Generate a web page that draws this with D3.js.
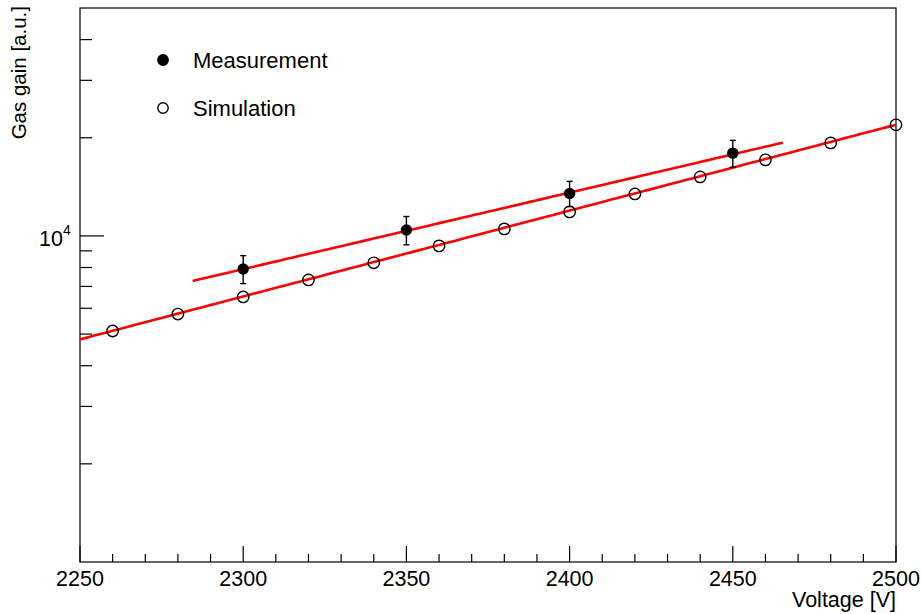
<!DOCTYPE html>
<html><head><meta charset="utf-8">
<script src="https://cdn.jsdelivr.net/npm/d3@7"></script>
<style>body{margin:0;background:#fff;} svg{display:block;font-family:"Liberation Sans",Arial,sans-serif;}</style>
</head><body><svg id="c" width="921" height="614"></svg>
<script>
// ---- data ----
const simVoltage = [2260,2280,2300,2320,2340,2360,2380,2400,2420,2440,2460,2480,2500];
const simGain    = [5110,5760,6500,7330,8270,9320,10510,11850,13450,15170,17110,19290,21910];
const measVoltage = [2300,2350,2400,2450];
const measGain    = [7920,10430,13500,17940];
const measErr     = [780,1040,1200,1700];
// exponential fits: gain = exp(p0 + p1*V)
const measFit = {p0:-3.451, p1:0.005403, from:2284.5, to:2465.3};
const simFit  = {p0:-5.162, p1:0.006063, from:2250, to:2500};
const xMajorTicks = [2250,2300,2350,2400,2450,2500];
const xMinorStep = 10;
const yMajorTicks = [10000];
const yMinorTicks = [2000,3000,4000,5000,6000,7000,8000,9000,20000,30000,40000];
const legendItems = [{label:"Measurement", filled:true},{label:"Simulation", filled:false}];

const svg = d3.select("#c");
const L=80, R=896, T=8, B=562;
const x = d3.scaleLinear().domain([2250,2500]).range([L,R]);
const y = d3.scaleLog().domain([1000,50000]).range([B,T]);

// frame
svg.append("rect").attr("x",L).attr("y",T).attr("width",R-L).attr("height",B-T)
  .attr("fill","none").attr("stroke","#000").attr("stroke-width",1.2);

// x ticks
const xMinor = d3.range(2250,2500.1,xMinorStep);
svg.append("g").selectAll("line").data(xMinor).join("line")
  .attr("x1",d=>x(d)).attr("x2",d=>x(d)).attr("y1",B)
  .attr("y2",d=>xMajorTicks.includes(d)?B-16:B-8)
  .attr("stroke","#000").attr("stroke-width",1.2);
svg.append("g").selectAll("text").data(xMajorTicks).join("text")
  .attr("x",d=>x(d)).attr("y",586).attr("text-anchor","middle")
  .attr("font-size",21.5).text(d=>d);
svg.append("text").attr("x",R).attr("y",607).attr("text-anchor","end")
  .attr("font-size",21.5).text("Voltage [V]");

// y ticks
svg.append("g").selectAll("line").data(yMinorTicks).join("line")
  .attr("x1",L).attr("x2",L+12).attr("y1",d=>y(d)).attr("y2",d=>y(d))
  .attr("stroke","#000").attr("stroke-width",1.2);
svg.append("g").selectAll("line").data(yMajorTicks).join("line")
  .attr("x1",L).attr("x2",L+24).attr("y1",d=>y(d)).attr("y2",d=>y(d))
  .attr("stroke","#000").attr("stroke-width",1.2);
yMajorTicks.forEach(v=>{
  const t = svg.append("text").attr("x",63).attr("y",y(v)+10).attr("text-anchor","end").attr("font-size",21.5);
  t.append("tspan").text("10");
  const e = Math.round(Math.log10(v));
  svg.append("text").attr("x",63).attr("y",y(v)-1).attr("font-size",14).text(e);
});
svg.append("text").attr("transform","translate(26,6) rotate(-90)").attr("text-anchor","end")
  .attr("font-size",20.5).text("Gas gain [a.u.]");

// fit lines
function fitLine(f){
  const pts = d3.range(f.from, f.to+0.001, (f.to-f.from)/100);
  return d3.line().x(d=>x(d)).y(d=>y(Math.exp(f.p0+f.p1*d)))(pts);
}
[measFit, simFit].forEach(f=>{
  svg.append("path").attr("d",fitLine(f)).attr("fill","none").attr("stroke","#ff0000").attr("stroke-width",2.6);
});

// sim points
svg.append("g").selectAll("circle").data(simVoltage).join("circle")
  .attr("cx",d=>x(d)).attr("cy",(d,i)=>y(simGain[i])).attr("r",5.7)
  .attr("fill","none").attr("stroke","#000").attr("stroke-width",1.4);

// measurement error bars
const eb = svg.append("g").attr("stroke","#000").attr("stroke-width",1.4);
measVoltage.forEach((v,i)=>{
  const yt=y(measGain[i]+measErr[i]), yb=y(measGain[i]-measErr[i]), cx=x(v);
  eb.append("line").attr("x1",cx).attr("x2",cx).attr("y1",yt).attr("y2",yb);
  eb.append("line").attr("x1",cx-3).attr("x2",cx+3).attr("y1",yt).attr("y2",yt);
  eb.append("line").attr("x1",cx-3).attr("x2",cx+3).attr("y1",yb).attr("y2",yb);
});
svg.append("g").selectAll("circle").data(measVoltage).join("circle")
  .attr("cx",d=>x(d)).attr("cy",(d,i)=>y(measGain[i])).attr("r",5.7).attr("fill","#000");

// legend
legendItems.forEach((it,i)=>{
  const cy = 60 + i*48;
  svg.append("circle").attr("cx",163).attr("cy",cy).attr("r",5.2)
    .attr("fill",it.filled?"#000":"none").attr("stroke","#000").attr("stroke-width",1.4);
  svg.append("text").attr("x",193).attr("y",cy+7.5).attr("font-size",22).text(it.label);
});
</script></body></html>
